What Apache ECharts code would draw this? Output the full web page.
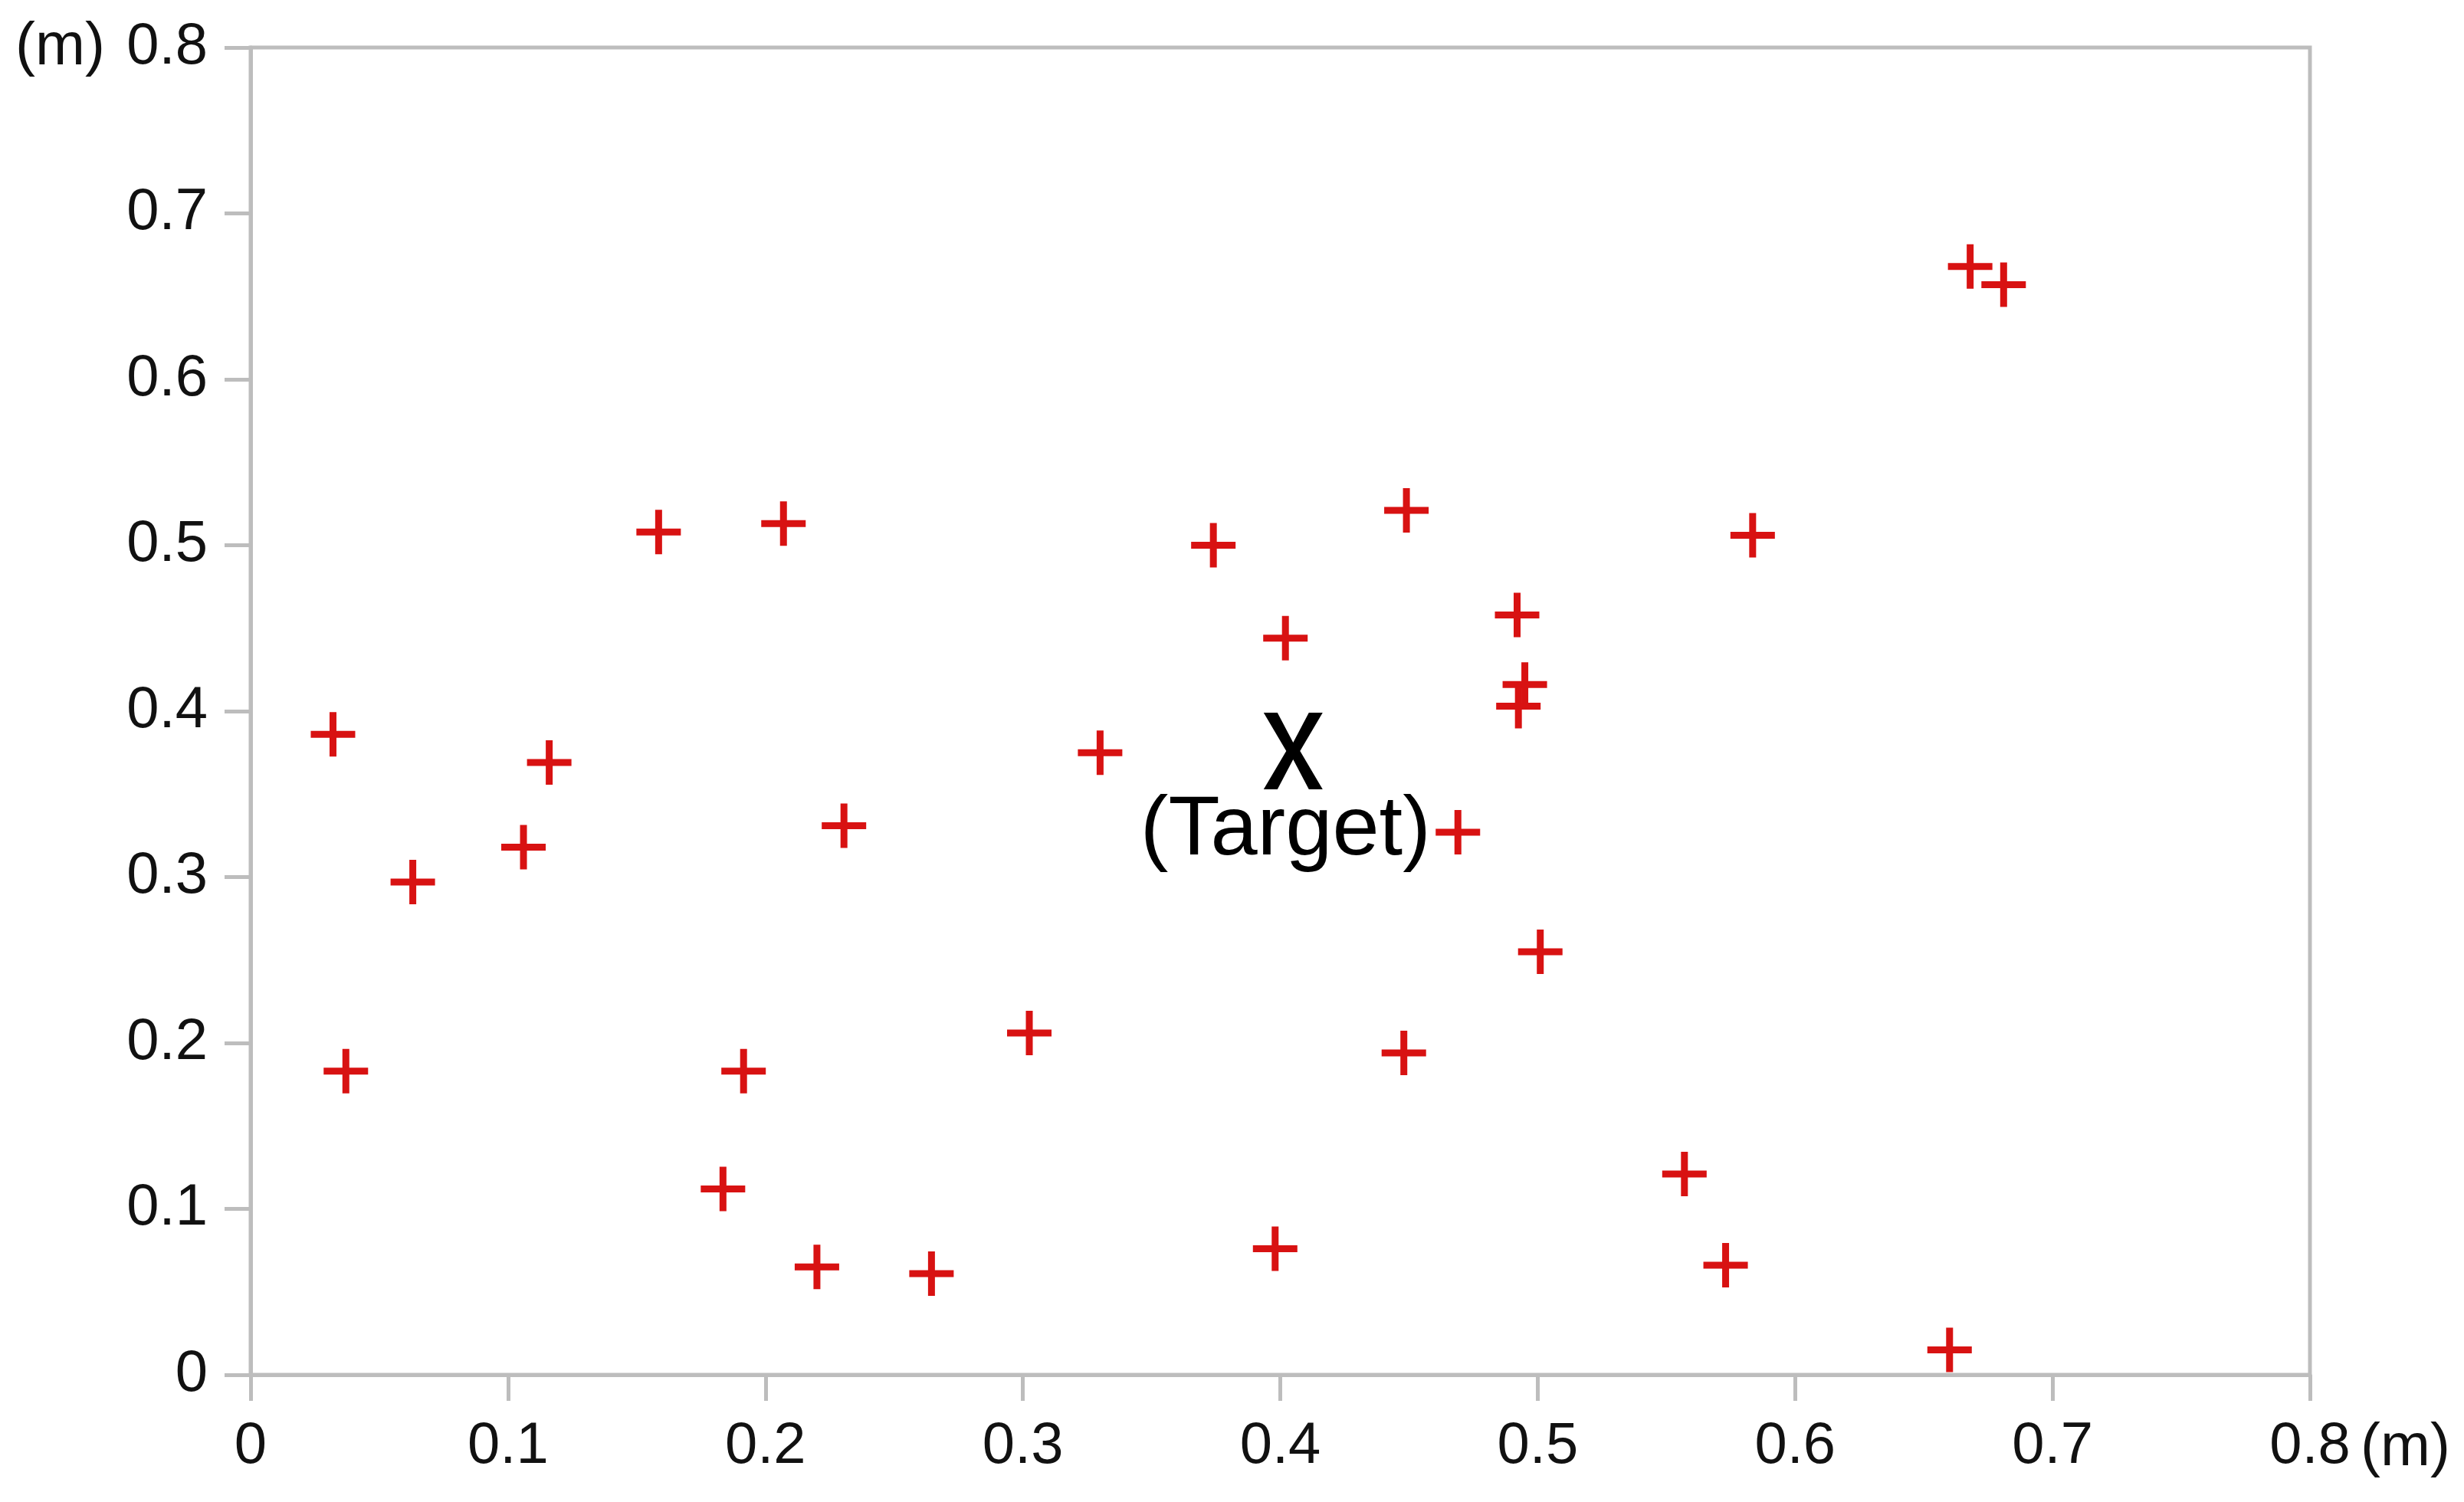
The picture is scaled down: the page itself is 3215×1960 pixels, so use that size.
<!DOCTYPE html>
<html>
<head>
<meta charset="utf-8">
<script src="https://cdn.jsdelivr.net/npm/echarts@6/dist/echarts.min.js"></script>
<style>html,body{margin:0;padding:0;background:#fff}#c{width:3215px;height:1960px}</style>
</head>
<body>
<div id="c"></div>
<script>
// Measured positions (m)
const pointsX = [0.668, 0.681, 0.1585, 0.207, 0.374, 0.449, 0.5835, 0.402, 0.492, 0.495, 0.4925,
                 0.032, 0.116, 0.330, 0.2305, 0.106, 0.063, 0.469, 0.501, 0.3025, 0.037, 0.1915,
                 0.448, 0.1835, 0.557, 0.220, 0.2645, 0.398, 0.573, 0.660];
const pointsY = [0.668, 0.657, 0.508, 0.513, 0.500, 0.521, 0.506, 0.444, 0.458, 0.416, 0.403,
                 0.386, 0.369, 0.375, 0.331, 0.318, 0.297, 0.327, 0.255, 0.206, 0.183, 0.183,
                 0.194, 0.112, 0.121, 0.065, 0.061, 0.076, 0.066, 0.015];
const targetX = [0.405];
const targetY = [0.376];
const targetLabel = '(Target)';
const xTicks = [0, 0.1, 0.2, 0.3, 0.4, 0.5, 0.6, 0.7, 0.8];
const yTicks = [0, 0.1, 0.2, 0.3, 0.4, 0.5, 0.6, 0.7, 0.8];
const unitName = '(m)';

const font = '"Liberation Sans", Arial, sans-serif';
const axisGrey = '#bdbdbd';
const plusPath = 'path://M0,24.5H24.5V0H33.5V24.5H58V33.5H33.5V58H24.5V33.5H0Z';
const xPath = 'path://M0,0H18L38.5,39L59,0H77L47.5,50L77,100H59L38.5,61L18,100H0L29.5,50Z';

function fmt(list) {
  return v => {
    const t = list.find(k => Math.abs(k - v) < 1e-9);
    const val = t !== undefined ? t : v;
    return val === 0 ? '0' : String(+val.toFixed(1));
  };
}

const chart = echarts.init(document.getElementById('c'), null, {renderer: 'canvas'});
const axisCommon = {
  type: 'value', min: 0, max: 0.8, interval: 0.1,
  axisLine: {show: true, lineStyle: {color: axisGrey, width: 5}},
  axisTick: {show: true, length: 34, lineStyle: {color: axisGrey, width: 5}},
  splitLine: {show: false},
  name: unitName
};
const labelCommon = {fontFamily: font, fontSize: 76, color: '#111111', margin: 56};
chart.setOption({
  animation: false,
  backgroundColor: '#ffffff',
  grid: {left: 327, right: 201, top: 62, bottom: 166, containLabel: false, outerBoundsMode: 'none',
         show: true, borderColor: axisGrey, borderWidth: 5},
  xAxis: Object.assign({}, axisCommon, {
    axisLabel: Object.assign({}, labelCommon, {formatter: fmt(xTicks)}),
    nameLocation: 'end', nameGap: 66,
    nameTextStyle: {fontFamily: font, fontSize: 78, color: '#111111', align: 'left', verticalAlign: 'top', lineHeight: 192}
  }),
  yAxis: Object.assign({}, axisCommon, {
    axisLabel: Object.assign({}, labelCommon, {formatter: fmt(yTicks)}),
    nameLocation: 'end', nameGap: 0,
    nameTextStyle: {fontFamily: font, fontSize: 78, color: '#111111', align: 'right', verticalAlign: 'middle', padding: [0, 190, 0, 0]}
  }),
  series: [
    {
      type: 'scatter',
      data: pointsX.map((x, i) => [x, pointsY[i]]),
      symbol: plusPath, symbolSize: 58, symbolKeepAspect: true,
      itemStyle: {color: '#d81212', opacity: 1},
      z: 3
    },
    {
      type: 'scatter',
      data: targetX.map((x, i) => [x, targetY[i]]),
      symbol: xPath, symbolSize: [77, 100],
      itemStyle: {color: '#000000', opacity: 1},
      label: {show: true, position: 'bottom', distance: 2, offset: [-10, 0], formatter: targetLabel,
        fontFamily: font, fontSize: 110, color: '#000000', lineHeight: 105},
      z: 4
    }
  ]
});
</script>
</body>
</html>
